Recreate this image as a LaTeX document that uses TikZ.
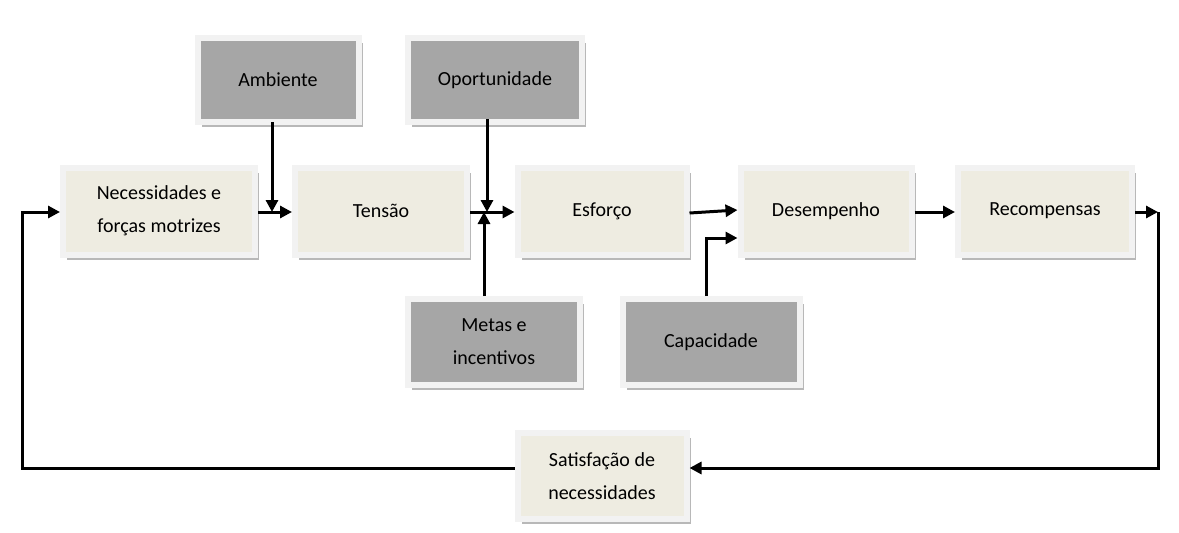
\documentclass[tikz,border=0pt]{standalone}
\usepackage{fontspec}
\setmainfont{Carlito}
\usetikzlibrary{shadows,arrows.meta}
\definecolor{beige}{HTML}{EEECE1}
\definecolor{dgray}{HTML}{A6A6A6}
\definecolor{frame}{HTML}{F2F2F2}
\tikzset{
 box/.style={draw=frame, line width=6pt, align=center, font=\fontsize{20}{33}\selectfont,
   drop shadow={shadow xshift=4pt, shadow yshift=-5pt, fill=black!28, opacity=1}},
 lbox/.style={box, fill=beige},
 gbox/.style={box, fill=dgray},
 conn/.style={line width=3pt, -{Triangle[length=12pt,width=12pt]}},
 plain/.style={line width=3pt}
}
\begin{document}
\begin{tikzpicture}[x=1pt,y=-1pt]
\useasboundingbox (0,0) rectangle (1179,533);
\node[lbox, minimum width=192pt, minimum height=87pt] (nec) at (159,211) {Necessidades e\\forças motrizes};
\node[lbox, minimum width=172pt, minimum height=87pt] (ten) at (381,211) {Tensão};
\node[lbox, minimum width=169pt, minimum height=87pt] (esf) at (602,211) {Esforço};
\node[lbox, minimum width=171pt, minimum height=87pt] (des) at (826,211) {Desempenho};
\node[lbox, minimum width=174pt, minimum height=87pt] (rec) at (1045,211) {Recompensas};
\node[lbox, minimum width=169pt, minimum height=86pt] (sat) at (602,476) {Satisfação de\\necessidades};
\node[gbox, minimum width=161pt, minimum height=84pt] (amb) at (278,80) {Ambiente};
\node[gbox, minimum width=174pt, minimum height=84pt] (opo) at (495,80) {Oportunidade};
\node[gbox, minimum width=172pt, minimum height=86pt] (met) at (494,342) {Metas e\\incentivos};
\node[gbox, minimum width=177pt, minimum height=86pt] (cap) at (711,342) {Capacidade};
\coordinate (jt) at (487,212);
\coordinate (tr) at (1158,212);
\coordinate (br) at (1158,468);
\coordinate (bl) at (22,468);
\coordinate (tl) at (22,212);
\draw[conn] (nec.east |- 0,212) -- (ten.west |- 0,212);
\draw[conn] (272,122) -- (272,212);
\draw[conn] (ten.east |- 0,212) -- (esf.west |- 0,212);
\draw[conn] (jt |- opo.south) ++(0,-6) -- (jt);
\draw[conn] (484,296) -- (484,212);
\draw[conn] (esf.east |- 0,213) -- (des.west |- 0,210);
\draw[conn] (706,296) -- (706,238) -- (des.west |- 0,238);
\draw[conn] (des.east |- 0,212) -- (rec.west |- 0,212);
\draw[conn] (rec.east |- 0,212) -- (tr);
\draw[conn] (tr) -- (br) -- (sat.east |- br);
\draw[conn] (sat.west |- bl) -- (bl) -- (tl) -- (nec.west |- tl);
\end{tikzpicture}
\end{document}
